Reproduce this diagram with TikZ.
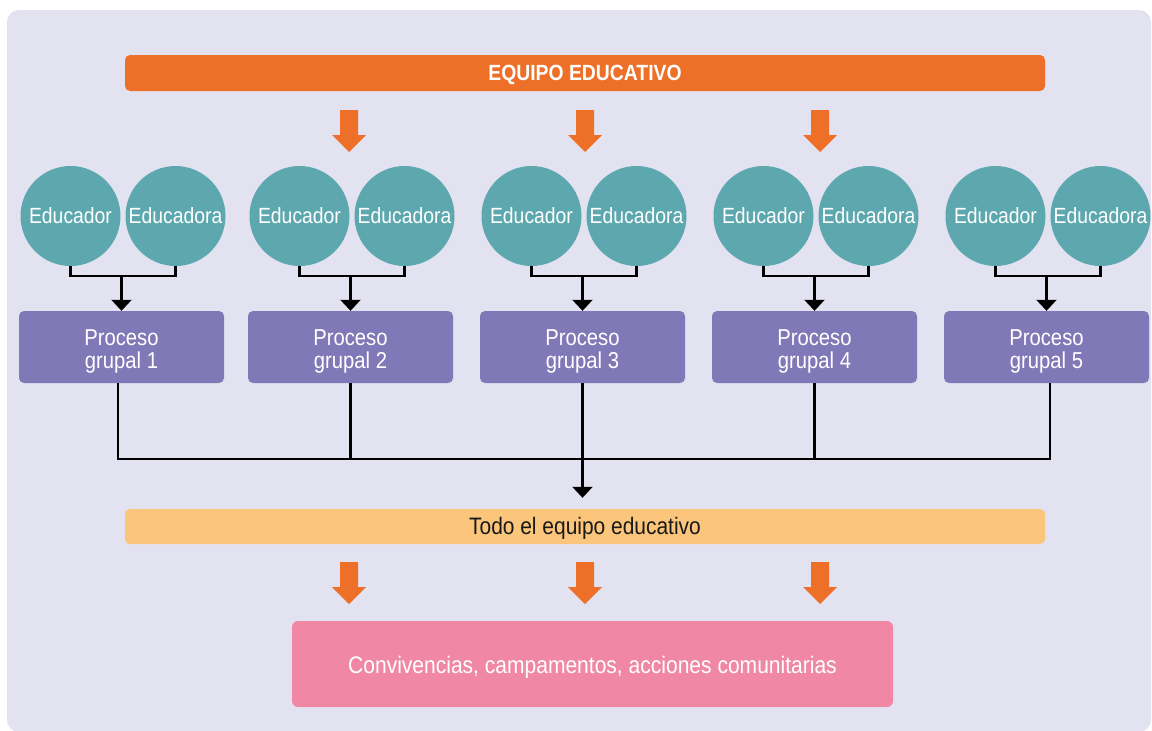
\documentclass[tikz,border=0pt]{standalone}
\usepackage{fontspec}
\setmainfont{Liberation Sans}[FakeStretch=0.88]
\usetikzlibrary{arrows.meta}
\definecolor{bgc}{HTML}{E3E2F1}
\definecolor{orng}{HTML}{EE6F27}
\definecolor{teal}{HTML}{5DA8AE}
\definecolor{purp}{HTML}{8179B7}
\definecolor{lorng}{HTML}{FBC57B}
\definecolor{pink}{HTML}{F087A4}
\tikzset{
  edu/.style={circle, fill=teal, minimum size=100pt, inner sep=0pt, text=white, font=\fontsize{22}{23}\selectfont},
  proc/.style={rectangle, rounded corners=5pt, fill=purp, minimum width=205pt, minimum height=72pt, inner sep=0pt},
  lbl/.style={inner sep=0pt, align=center},
  bar/.style={rectangle, rounded corners=5pt, minimum width=920pt, inner sep=0pt},
  conn/.style={line width=2.2pt, draw=black},
  arr/.style={conn, -{Triangle[width=20pt,length=11pt]}},
  bigarrow/.style={fill=orng}
}
\begin{document}
\begin{tikzpicture}[x=1pt,y=-1pt]
\useasboundingbox (0,0) rectangle (1152,731);
\fill[bgc, rounded corners=12pt] (7,10) rectangle (1151,732);

\node[bar, fill=orng, minimum height=36pt] (top) at (585,73) {};
\node[lbl, text=white, font=\bfseries\fontsize{22}{23}\selectfont] (toptxt) at (585,74.5) {EQUIPO EDUCATIVO};

\foreach \x in {349,585,820}{
  \fill[bigarrow] (\x-9,110) -- (\x+9,110) -- (\x+9,135) -- (\x+17,135) -- (\x,152) -- (\x-17,135) -- (\x-9,135) -- cycle;
  \fill[bigarrow] (\x-9,562) -- (\x+9,562) -- (\x+9,587) -- (\x+17,587) -- (\x,604) -- (\x-17,587) -- (\x-9,587) -- cycle;
}

\foreach \i/\c in {1/121.5,2/350.5,3/582.5,4/814.5,5/1046.5}{
  \node[edu] (a\i) at (\c-51,216) {Educador};
  \node[edu] (b\i) at (\c+54,216) {Educadora};
  \node[proc] (p\i) at (\c,347) {};
  \node[lbl, text=white, font=\fontsize{23}{23.5}\selectfont] (t\i) at (\c,351.5) {Proceso\\grupal \i};
  \coordinate (m\i) at (\c,276);
  \draw[conn] (a\i.south) |- (m\i) -| (b\i.south);
  \draw[arr] (m\i) -- (p\i.north);
}

\node[bar, fill=lorng, minimum height=35pt] (todo) at (585,526.5) {};
\node[lbl, text=black!90, font=\fontsize{23.8}{25}\selectfont] (todotxt) at (585,528.5) {Todo el equipo educativo};

\coordinate (j) at (582.5,459);
\draw[conn] ([xshift=-3.5pt]p1.south) |- (j) -| ([xshift=3.5pt]p5.south);
\draw[conn] (p2.south) -- (p2.south |- j);
\draw[conn] (p3.south) -- (j);
\draw[conn] (p4.south) -- (p4.south |- j);
\draw[arr] (j) -- ([yshift=11pt]todo.north -| j);

\node[rectangle, rounded corners=6pt, fill=pink, minimum width=601pt, minimum height=86pt, inner sep=0pt] (conv) at (592.5,664) {};
\node[lbl, text=white, font=\fontsize{23.9}{25}\selectfont] (convtxt) at (592.5,667) {Convivencias, campamentos, acciones comunitarias};
\end{tikzpicture}
\end{document}
